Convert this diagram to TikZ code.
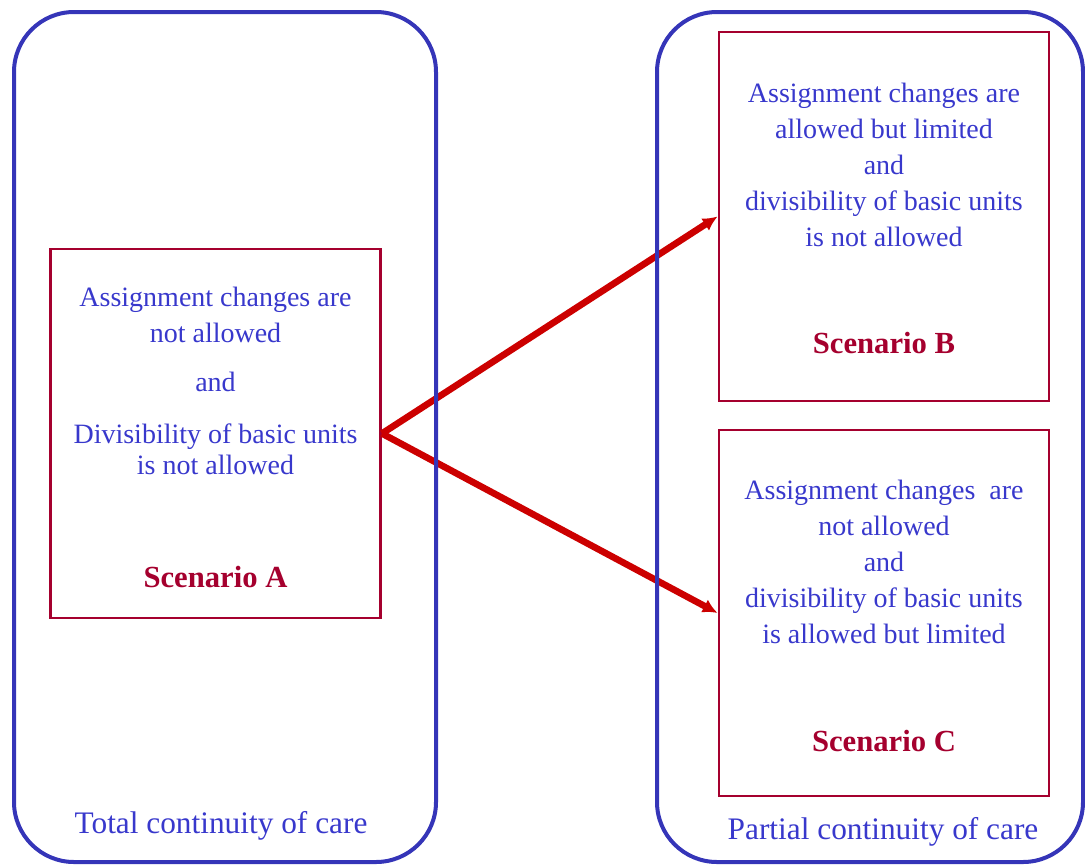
\documentclass[tikz,border=0pt]{standalone}
\usepackage{fontspec}
\setmainfont{Liberation Serif}
\usetikzlibrary{arrows.meta}
\definecolor{grpblue}{HTML}{3535B8}
\definecolor{txtblue}{HTML}{3838CC}
\definecolor{boxred}{HTML}{A5002E}
\definecolor{arrred}{HTML}{CC0000}

\begin{document}
\begin{tikzpicture}[
        x=0.75pt, y=-0.75pt,
        group/.style={draw=grpblue, line width=3pt, rounded corners=45pt,
            minimum width=#1, minimum height=637.5pt, inner sep=0pt},
        scen/.style={draw=boxred, line width=2.2pt, minimum width=247.5pt,
            minimum height=#1, inner sep=0pt},
        body/.style={text=txtblue, align=center, font=\fontsize{21}{27}\selectfont},
        title/.style={text=boxred, font=\fontsize{23}{26}\selectfont\bfseries},
        caption/.style={text=txtblue, font=\fontsize{23.5}{26}\selectfont},
        link/.style={-{Latex[length=11pt,width=11pt]}, draw=arrred, line width=5pt}
        ]
        \useasboundingbox (0,0) rectangle (1085,864);
        % scenario boxes
        \node[scen=276.75pt] (A) at (215.5,433.5) {};
        \node[scen=276.75pt] (B) at (884,216.5) {};
        \node[scen=274.5pt] (C) at (884,613) {};
        \node[body] (Atext) at (215.5,381) {Assignment changes are\\not allowed\\[10pt]and\\[12pt]Divisibility of basic units\\[-4pt]is not allowed};
        \node[title] (Atitle) at (215.5,577) {Scenario A};
        \node[body] (Btext) at (884,165) {Assignment changes are\\allowed but limited\\and\\divisibility of basic units\\is not allowed};
        \node[title] (Btitle) at (884,343) {Scenario B};
        \node[body] (Ctext) at (884,562) {Assignment changes\ \ are\\not allowed\\and\\divisibility of basic units\\is allowed but limited};
        \node[title] (Ctitle) at (884,741) {Scenario C};
        % arrows
        \draw[link] (A.east) -- (B.west);
        \draw[link] (A.east) -- (C.west);
        % the two groups, drawn over the arrows
        \node[group=316.5pt] (total) at (225,437) {};
        \node[group=319.5pt] (partial) at (870,437) {};
        \node[caption] (totallabel) at (221,826) {Total continuity of care};
        \node[caption] (partiallabel) at (883,832) {Partial continuity of care};
\end{tikzpicture}
\end{document}
